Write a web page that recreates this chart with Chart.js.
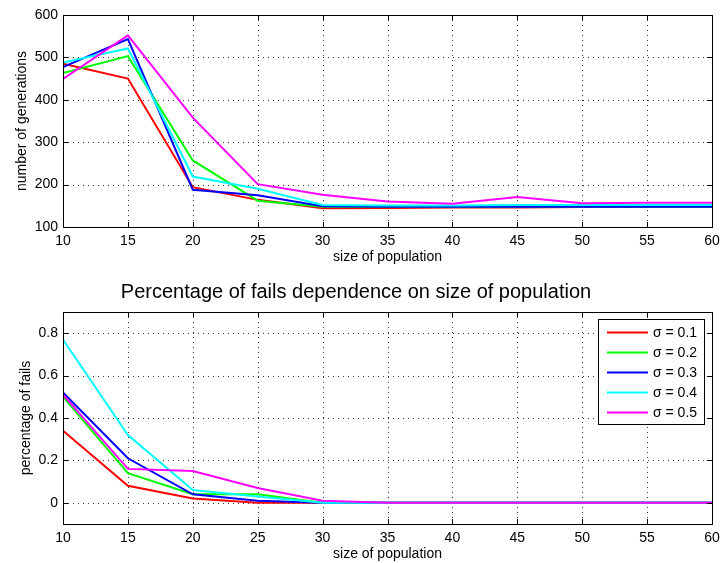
<!DOCTYPE html>
<html>
<head>
<meta charset="utf-8">
<script src="https://cdn.jsdelivr.net/npm/chart.js@4"></script>
<style>
  body { margin: 0; background: #fff; }
  #wrap { position: relative; width: 720px; height: 563px; }
  canvas { position: absolute; left: 0; }
  #gens { top: 0; }
  #fails { top: 270px; }
</style>
</head>
<body>
<div id="wrap">
  <canvas id="gens" width="720" height="270"></canvas>
  <canvas id="fails" width="720" height="293"></canvas>
</div>
<script>
// population sizes on the x axis
const popSizes = [10, 15, 20, 25, 30, 35, 40, 45, 50, 55, 60];
const sigmaLabels = ['σ = 0.1', 'σ = 0.2', 'σ = 0.3', 'σ = 0.4', 'σ = 0.5'];
const lineColors = ['#ff0000', '#00ff00', '#0000ff', '#00ffff', '#ff00ff'];

// mean number of generations per sigma
const gens01 = [485, 450, 194, 164, 144, 145, 146, 146, 147, 147, 147];
const gens02 = [463, 503, 257, 162, 148, 147, 147, 148, 148, 148, 148];
const gens03 = [477, 543, 188, 175, 149, 148, 148, 148, 148, 148, 148];
const gens04 = [488, 521, 219, 190, 152, 151, 151, 152, 152, 152, 152];
const gens05 = [449, 552, 358, 201, 176, 160, 155, 171, 156, 157, 157];

// share of failed runs per sigma
const fails01 = [0.34, 0.08, 0.02, 0.00, 0.00, 0, 0, 0, 0, 0, 0];
const fails02 = [0.50, 0.14, 0.04, 0.04, 0.00, 0, 0, 0, 0, 0, 0];
const fails03 = [0.52, 0.21, 0.04, 0.01, 0.00, 0, 0, 0, 0, 0, 0];
const fails04 = [0.77, 0.32, 0.06, 0.03, 0.00, 0, 0, 0, 0, 0, 0];
const fails05 = [0.51, 0.16, 0.15, 0.07, 0.01, 0, 0, 0, 0, 0, 0];

const xTicks = [10, 15, 20, 25, 30, 35, 40, 45, 50, 55, 60];
const gensTicks = [100, 200, 300, 400, 500, 600];
const failsTicks = [0, 0.2, 0.4, 0.6, 0.8];

Chart.defaults.font.family = '"Liberation Sans", Arial, Helvetica, sans-serif';
Chart.defaults.color = '#000';

// matlab-like axes: dotted grid, boxed frame, inward tick marks, legend inside
const boxAxes = {
  id: 'boxAxes',
  beforeDatasetsDraw(chart) {
    const { ctx, chartArea: a, scales: { x, y } } = chart;
    ctx.save();
    ctx.strokeStyle = '#333';
    ctx.lineWidth = 1;
    ctx.setLineDash([1, 4]);
    ctx.beginPath();
    x.ticks.forEach(t => {
      const px = Math.round(x.getPixelForValue(t.value)) + 0.5;
      if (px < a.left + 2 || px > a.right - 2) return;
      ctx.moveTo(px, a.top); ctx.lineTo(px, a.bottom);
    });
    y.ticks.forEach(t => {
      const py = Math.round(y.getPixelForValue(t.value)) + 0.5;
      if (py < a.top + 2 || py > a.bottom - 2) return;
      ctx.moveTo(a.left, py); ctx.lineTo(a.right, py);
    });
    ctx.stroke();
    ctx.restore();
  },
  afterDatasetsDraw(chart, args, opts) {
    const { ctx, chartArea: a, scales: { x, y } } = chart;
    const tl = 5;
    ctx.save();
    ctx.strokeStyle = '#000';
    ctx.lineWidth = 1;
    ctx.beginPath();
    x.ticks.forEach(t => {
      const px = Math.round(x.getPixelForValue(t.value)) + 0.5;
      ctx.moveTo(px, a.bottom); ctx.lineTo(px, a.bottom - tl);
      ctx.moveTo(px, a.top); ctx.lineTo(px, a.top + tl);
    });
    y.ticks.forEach(t => {
      const py = Math.round(y.getPixelForValue(t.value)) + 0.5;
      ctx.moveTo(a.left, py); ctx.lineTo(a.left + tl, py);
      ctx.moveTo(a.right, py); ctx.lineTo(a.right - tl, py);
    });
    ctx.stroke();
    ctx.strokeRect(Math.round(a.left) + 0.5, Math.round(a.top) + 0.5,
      Math.round(a.right - a.left), Math.round(a.bottom - a.top));

    if (opts.legend) {
      const w = 106, h = 105;
      const lx = Math.round(a.right) - 8 - w, ly = Math.round(a.top) + 7;
      ctx.fillStyle = '#fff';
      ctx.fillRect(lx, ly, w, h);
      ctx.strokeRect(lx + 0.5, ly + 0.5, w, h);
      ctx.font = '14px "Liberation Sans", Arial, sans-serif';
      ctx.textBaseline = 'middle';
      ctx.textAlign = 'left';
      chart.data.datasets.forEach((ds, i) => {
        const ry = ly + 13.5 + i * 20;
        ctx.strokeStyle = ds.borderColor;
        ctx.lineWidth = 2;
        ctx.beginPath();
        ctx.moveTo(lx + 9, ry); ctx.lineTo(lx + 50, ry);
        ctx.stroke();
        ctx.fillStyle = '#000';
        ctx.fillText(ds.label, lx + 55, ry + 1);
      });
    }
    ctx.restore();
  }
};

function buildDatasets(series) {
  return series.map((vals, i) => ({
    label: sigmaLabels[i],
    data: popSizes.map((p, k) => ({ x: p, y: vals[k] })),
    borderColor: lineColors[i],
    backgroundColor: lineColors[i],
    borderWidth: 2,
    pointRadius: 0,
    tension: 0,
    order: series.length - i
  }));
}

function makeChart(id, series, cfg) {
  return new Chart(document.getElementById(id), {
    type: 'line',
    data: { datasets: buildDatasets(series) },
    options: {
      responsive: false,
      animation: false,
      layout: { padding: cfg.padding },
      plugins: {
        legend: { display: false },
        tooltip: { enabled: false },
        title: cfg.title,
        boxAxes: { legend: cfg.legend }
      },
      scales: {
        x: {
          type: 'linear',
          min: 10, max: 60,
          afterBuildTicks: s => { s.ticks = xTicks.map(v => ({ value: v })); },
          afterFit: s => { s.height = cfg.xHeight; s.paddingLeft = 0; s.paddingRight = 0; },
          grid: { display: false, drawTicks: false },
          border: { display: false },
          ticks: { font: { size: 14 }, padding: 6, maxRotation: 0 },
          title: { display: true, text: 'size of population', font: { size: 14 }, padding: { top: 0, bottom: cfg.xTitlePad } }
        },
        y: {
          min: cfg.yMin, max: cfg.yMax,
          afterBuildTicks: s => { s.ticks = cfg.yTicks.map(v => ({ value: v })); },
          afterFit: s => { s.width = 63; },
          grid: { display: false, drawTicks: false },
          border: { display: false },
          ticks: { font: { size: 14 }, padding: 5 },
          title: { display: true, text: cfg.yTitle, font: { size: 14 }, padding: { top: cfg.yTitlePad, bottom: 0 } }
        }
      }
    },
    plugins: [boxAxes]
  });
}

makeChart('gens', [gens01, gens02, gens03, gens04, gens05], {
  padding: { top: 15, right: 8, left: 0, bottom: 0 },
  title: { display: false },
  legend: false,
  xHeight: 43, xTitlePad: 4,
  yMin: 100, yMax: 600, yTicks: gensTicks,
  yTitle: 'number of generations', yTitlePad: 14
});

makeChart('fails', [fails01, fails02, fails03, fails04, fails05], {
  padding: { top: 0, right: 8, left: 0, bottom: 0 },
  title: {
    display: true,
    text: 'Percentage of fails dependence on size of population',
    font: { size: 20, weight: 'normal' },
    color: '#000',
    padding: { top: 10, bottom: 8 }
  },
  legend: true,
  xHeight: 39, xTitlePad: 0,
  yMin: -0.1, yMax: 0.9, yTicks: failsTicks,
  yTitle: 'percentage of fails', yTitlePad: 18
});
</script>
</body>
</html>
